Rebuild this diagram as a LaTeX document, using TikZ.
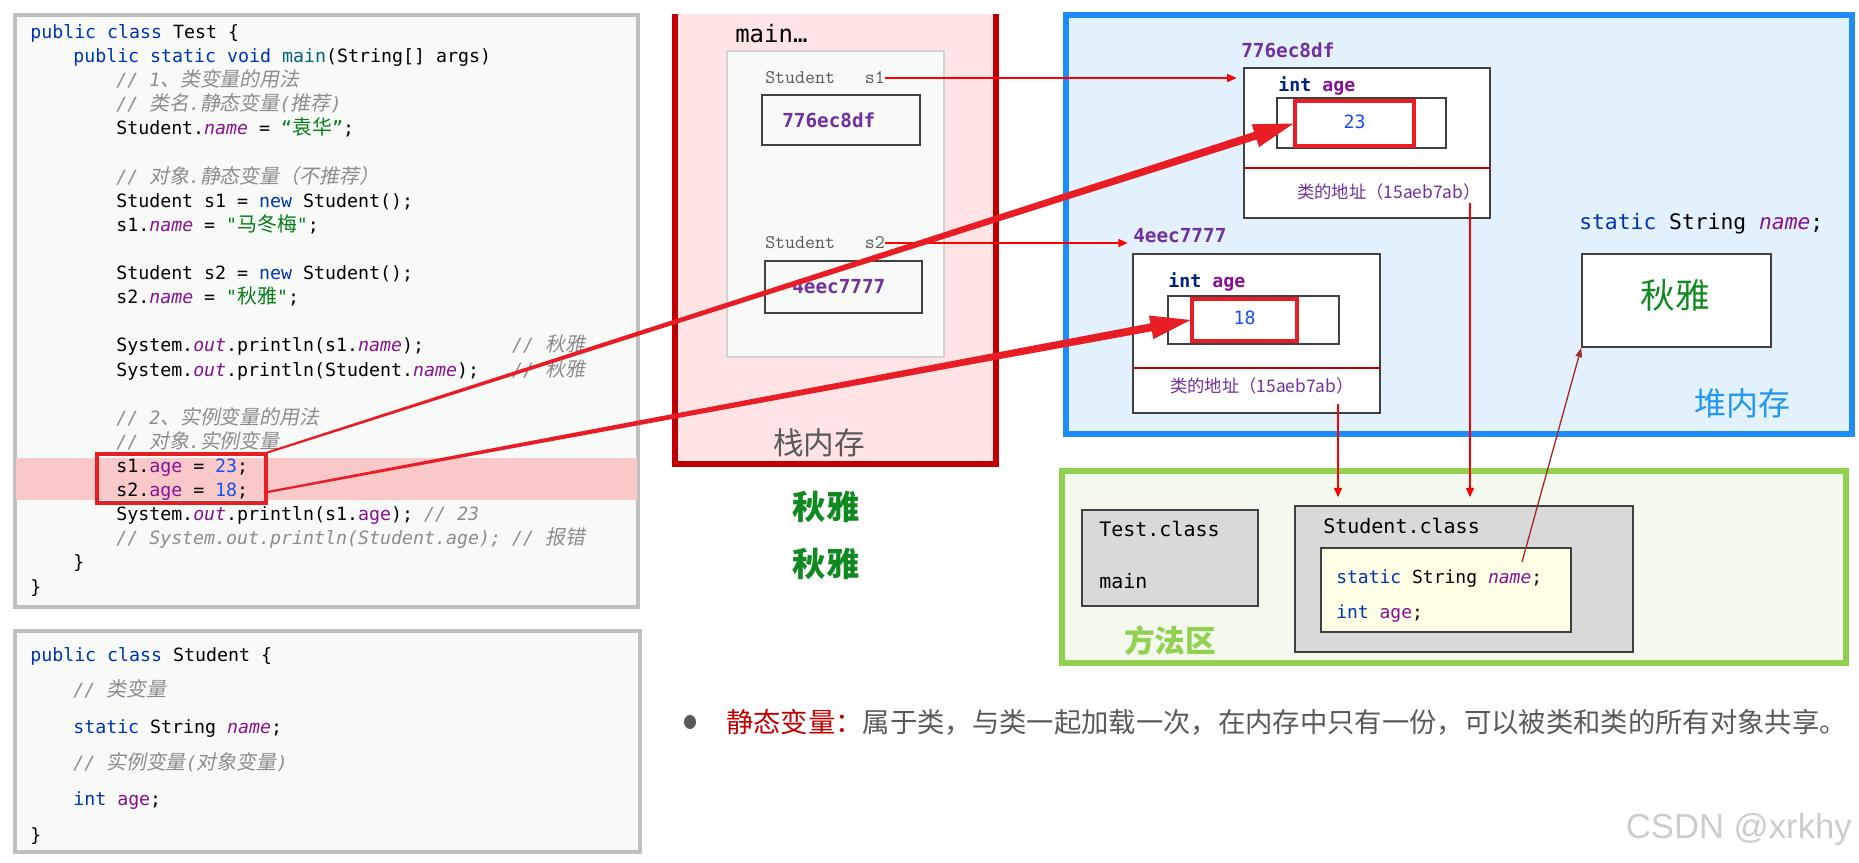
\documentclass[tikz,border=0pt]{standalone}
\usepackage{fontspec}
\newfontfamily\codefont{DejaVu Sans Mono}
\newfontfamily\zhfont{Noto Sans CJK SC}
\newfontfamily\zhcode[Scale=1.09]{Noto Sans CJK SC}
\newfontfamily\zhslant[Scale=1.09,FakeSlant=0.2]{Noto Sans CJK SC}
\newfontfamily\wmfont{Liberation Sans}
\usetikzlibrary{arrows.meta,calc,fit}

\definecolor{kwblue}{HTML}{0033B3}
\definecolor{fldpurple}{HTML}{871094}
\definecolor{strgreen}{HTML}{067D17}
\definecolor{numblue}{HTML}{1750EB}
\definecolor{cmtgrey}{HTML}{8C8C8C}
\definecolor{methteal}{HTML}{00627A}
\definecolor{panelbg}{HTML}{F8FAF8}
\definecolor{hlpink}{HTML}{F9C9C9}
\definecolor{boxred}{HTML}{E81D25}
\definecolor{stackred}{HTML}{C00000}
\definecolor{stackfill}{HTML}{FFE4E5}
\definecolor{heapblue}{HTML}{1E8CF8}
\definecolor{heapfill}{HTML}{E3F1FD}
\definecolor{heaptext}{HTML}{2196F3}
\definecolor{methgreen}{HTML}{92D050}
\definecolor{methfill}{HTML}{F3F9EC}
\definecolor{addrpurple}{HTML}{7030A0}
\definecolor{zhgreen}{HTML}{108A20}
\definecolor{edgegrey}{HTML}{404040}
\definecolor{txtgrey}{HTML}{595959}
\definecolor{yellowfill}{HTML}{FFFFE6}
\definecolor{brownred}{HTML}{A52A2A}

% code colouring
\newcommand\jkw[1]{{\color{kwblue}#1}}
\newcommand\jfld[1]{{\color{fldpurple}\itshape #1}}
\newcommand\jvar[1]{{\color{fldpurple}#1}}
\newcommand\jstr[1]{{\color{strgreen}#1}}
\newcommand\jnum[1]{{\color{numblue}#1}}
\newcommand\jcmt[1]{{\color{cmtgrey}\itshape #1}}
\newcommand\jmeth[1]{{\color{methteal}#1}}
\newcommand\zh[1]{{\zhcode #1}}
\newcommand\zhi[1]{{\zhslant #1}}

% tapered arrow: name, start, tip
\newcommand\fatarrow[3]{%
  \coordinate (#1-b) at ($(#3)!30pt!(#2)$);
  \fill[boxred] ($(#2)!.8pt!90:(#3)$) -- ($(#1-b)!3pt!-90:(#2)$)
    -- ($(#1-b)!9pt!-90:(#2)$) -- (#3) -- ($(#1-b)!9pt!90:(#2)$)
    -- ($(#1-b)!3pt!90:(#2)$) -- ($(#2)!.8pt!-90:(#3)$) -- cycle;
}

\tikzset{
  panel/.style={draw=gray!50, line width=2.5pt, fill=panelbg},
  code/.style={font=\codefont\fontsize{13.7}{16}\selectfont\frenchspacing,
    anchor=west, inner sep=0pt, text height=10pt, text depth=3pt},
  membox/.style={draw=edgegrey, line width=1.2pt, inner sep=0pt},
  redbox/.style={draw=boxred, line width=2.3pt, inner sep=0pt},
  vartxt/.style={font=\ttfamily\fontsize{14.5}{16}\selectfont, text=txtgrey,
    anchor=west, inner sep=0pt},
  addrtxt/.style={font=\codefont\bfseries\fontsize{14.5}{16}\selectfont,
    text=addrpurple, anchor=west, inner sep=0pt},
  objaddr/.style={font=\zhfont\fontsize{13}{15}\selectfont, text=addrpurple},
  greenzh/.style={font=\zhfont\bfseries\fontsize{25}{28}\selectfont, text=zhgreen},
  thinarrow/.style={draw=red, line width=1.1pt, -{Triangle[length=7pt,width=6pt]}},
}

\begin{document}
\begin{tikzpicture}[x=0.75pt,y=-0.75pt]
  \useasboundingbox (0,0) rectangle (1859,863);

  % Test code panel
  \draw[panel] (15,15) rectangle (638,607);
  \fill[hlpink] (16,458) rectangle (637,500);
  \node[code] (t1) at (30,34) {\jkw{public class} Test \{};
  \node[code] (t2) at (73,58) {\jkw{public static void} \jmeth{main}(String[] args)};
  \node[code] (t3) at (116,82) {\jcmt{// 1\zhi{、类变量的用法}}};
  \node[code] (t4) at (116,106) {\jcmt{// \zhi{类名}.\zhi{静态变量}(\zhi{推荐})}};
  \node[code] (t5) at (116,130) {Student.\jfld{name} = \jstr{“\zh{袁华}”};};
  \node[code] (t7) at (116,179) {\jcmt{// \zhi{对象}.\zhi{静态变量（不推荐）}}};
  \node[code] (t8) at (116,203) {Student s1 = \jkw{new} Student();};
  \node[code] (t9) at (116,227) {s1.\jfld{name} = \jstr{"\zh{马冬梅}"};};
  \node[code] (t11) at (116,275) {Student s2 = \jkw{new} Student();};
  \node[code] (t12) at (116,299) {s2.\jfld{name} = \jstr{"\zh{秋雅}"};};
  \node[code] (t14) at (116,347) {System.\jfld{out}.println(s1.\jfld{name});~~~~~~~~\jcmt{// \zhi{秋雅}}};
  \node[code] (t15) at (116,372) {System.\jfld{out}.println(Student.\jfld{name});~~~\jcmt{// \zhi{秋雅}}};
  \node[code] (t17) at (116,420) {\jcmt{// 2\zhi{、实例变量的用法}}};
  \node[code] (t18) at (116,444) {\jcmt{// \zhi{对象}.\zhi{实例变量}}};
  \node[code] (t19) at (116,468) {s1.\jvar{age} = \jnum{23};};
  \node[code] (t20) at (116,492) {s2.\jvar{age} = \jnum{18};};
  \node[code] (t21) at (116,516) {System.\jfld{out}.println(s1.\jvar{age}); \jcmt{// 23}};
  \node[code] (t22) at (116,540) {\jcmt{// System.out.println(Student.age); // \zhi{报错}}};
  \node[code] (t23) at (73,564) {\}};
  \node[code] (t24) at (30,589) {\}};
  \node[redbox, fit={(97,454) (266,503)}] (hl) {};

  % Student code panel
  \draw[panel] (15,631) rectangle (640,852);
  \node[code] (u1) at (30,657) {\jkw{public class} Student \{};
  \node[code] (u2) at (73,692) {\jcmt{// \zhi{类变量}}};
  \node[code] (u3) at (73,729) {\jkw{static} String \jfld{name};};
  \node[code] (u4) at (73,765) {\jcmt{// \zhi{实例变量}(\zhi{对象变量})}};
  \node[code] (u5) at (73,801) {\jkw{int} \jvar{age};};
  \node[code] (u6) at (30,837) {\}};

  % Stack
  \fill[stackfill] (675,14) rectangle (996,464);
  \draw[stackred, line width=4.5pt] (675,14) -- (675,464) -- (996,464) -- (996,14);
  \node[font=\codefont\fontsize{18}{20}\selectfont, anchor=west, inner sep=0pt] (mainlbl) at (735,34) {main…};
  \draw[draw=gray!35, line width=1.5pt, fill=panelbg] (727,51) rectangle (944,357);
  \node[vartxt] (s1lbl) at (765,78) {Student~~~s1};
  \node[membox, fit={(762,95) (920,145)}] (ref1) {};
  \node[addrtxt] (ref1txt) at (782,120) {776ec8df};
  \node[vartxt] (s2lbl) at (765,243) {Student~~~s2};
  \node[membox, fit={(765,261) (922,313)}] (ref2) {};
  \node[addrtxt] (ref2txt) at (792,287) {4eec7777};
  \node[font=\zhfont\fontsize{23}{26}\selectfont, text=txtgrey] (stacklbl) at (819,443) {栈内存};
  \node[greenzh] (out1) at (826,507) {秋雅};
  \node[greenzh] (out2) at (826,564) {秋雅};

  % Heap
  \draw[heapblue, line width=4.5pt, fill=heapfill] (1066,15) rectangle (1852,434);
  \node[addrtxt] (h1lbl) at (1241,50) {776ec8df};
  \node[membox, fill=white, fit={(1244,68) (1490,218)}] (obj1) {};
  \draw[stackred, line width=1pt] (1244,168) -- (1490,168);
  \node[code, font=\codefont\bfseries\fontsize{13.7}{16}\selectfont] (age1) at (1278,87) {\textcolor{kwblue!70!black}{int} \jvar{age}};
  \node[membox, fit={(1277,98) (1446,148)}] (in1) {};
  \node[redbox, fit={(1295,101) (1414,146)}] (v23) {};
  \node[code, anchor=center, text=numblue] at (v23.center) {23};
  \node[objaddr] (addr1) at (1389,192) {类的地址（15aeb7ab）};

  \node[addrtxt] (h2lbl) at (1133,236) {4eec7777};
  \node[membox, fill=white, fit={(1133,254) (1380,413)}] (obj2) {};
  \draw[stackred, line width=1pt] (1133,368) -- (1380,368);
  \node[code, font=\codefont\bfseries\fontsize{13.7}{16}\selectfont] (age2) at (1168,283) {\textcolor{kwblue!70!black}{int} \jvar{age}};
  \node[membox, fit={(1168,296) (1339,344)}] (in2) {};
  \node[redbox, fit={(1192,299) (1297,341)}] (v18) {};
  \node[code, anchor=center, text=numblue] at (v18.center) {18};
  \node[objaddr] (addr2) at (1262,386) {类的地址（15aeb7ab）};

  \node[code, font=\codefont\fontsize{16}{18}\selectfont] (sfield) at (1579,225) {\jkw{static} String \jfld{name};};
  \node[membox, fill=white, fit={(1582,254) (1771,347)}] (strbox) {};
  \node[greenzh, font=\zhfont\fontsize{26}{28}\selectfont] (strval) at (1675,295) {秋雅};
  \node[font=\zhfont\fontsize{24}{26}\selectfont, text=heaptext] (heaplbl) at (1742,403) {堆内存};

  % Method area
  \draw[methgreen, line width=4.5pt, fill=methfill] (1062,471) rectangle (1846,663);
  \node[membox, fill=gray!30, fit={(1082,510) (1258,606)}] (testcls) {};
  \node[code, font=\codefont\fontsize{15}{17}\selectfont] at (1099,532) {Test.class};
  \node[code, font=\codefont\fontsize{15}{17}\selectfont] at (1099,584) {main};
  \node[membox, fill=gray!30, fit={(1295,506) (1633,652)}] (stucls) {};
  \node[code, font=\codefont\fontsize{15}{17}\selectfont] at (1323,529) {Student.class};
  \node[membox, fill=yellowfill, fit={(1321,548) (1571,632)}] (fields) {};
  \node[code, font=\codefont\fontsize{13.5}{16}\selectfont] (fname) at (1336,579) {\jkw{static} String \jfld{name};};
  \node[code, font=\codefont\fontsize{13.5}{16}\selectfont] (fage) at (1336,614) {\jkw{int} \jvar{age};};
  \node[font=\zhfont\bfseries\fontsize{23}{26}\selectfont, text=methgreen] (methlbl) at (1170,641) {方法区};

  % References
  \draw[thinarrow, shorten >=5pt] (s1lbl.east) -- (s1lbl.east -| obj1.west);
  \draw[thinarrow, shorten >=4pt] (s2lbl.east) -- (s2lbl.east -| h2lbl.west);
  \coordinate (d1) at (1470,203);
  \coordinate (d2) at (1338,404);
  \draw[thinarrow, shorten >=6pt] (d1) -- (d1 |- stucls.north);
  \draw[thinarrow, shorten >=6pt] (d2) -- (d2 |- stucls.north);
  \coordinate (nm) at (1522,562);
  \draw[brownred, line width=1pt, -{Triangle[length=7pt,width=5pt]}] (nm) -- (strbox.south west);

  % Assignments
  \coordinate (p1) at (hl.north east);
  \coordinate (p2) at (hl.east |- t20.east);
  \fatarrow{a1}{p1}{v23.west}
  \fatarrow{a2}{p2}{v18.west}

  % Note
  \fill[txtgrey] (690,722) ellipse (6 and 7);
  \node[font=\zhfont\fontsize{20.5}{24}\selectfont, text=txtgrey, anchor=west, inner sep=0pt] (note) at (726,722)
    {\textcolor{stackred}{静态变量：}属于类，与类一起加载一次，在内存中只有一份，可以被类和类的所有对象共享。};
  \node[font=\wmfont\fontsize{26}{28}\selectfont, text=gray!40, anchor=east, inner sep=0pt] (mark) at (1852,830) {CSDN @xrkhy};
\end{tikzpicture}
\end{document}
